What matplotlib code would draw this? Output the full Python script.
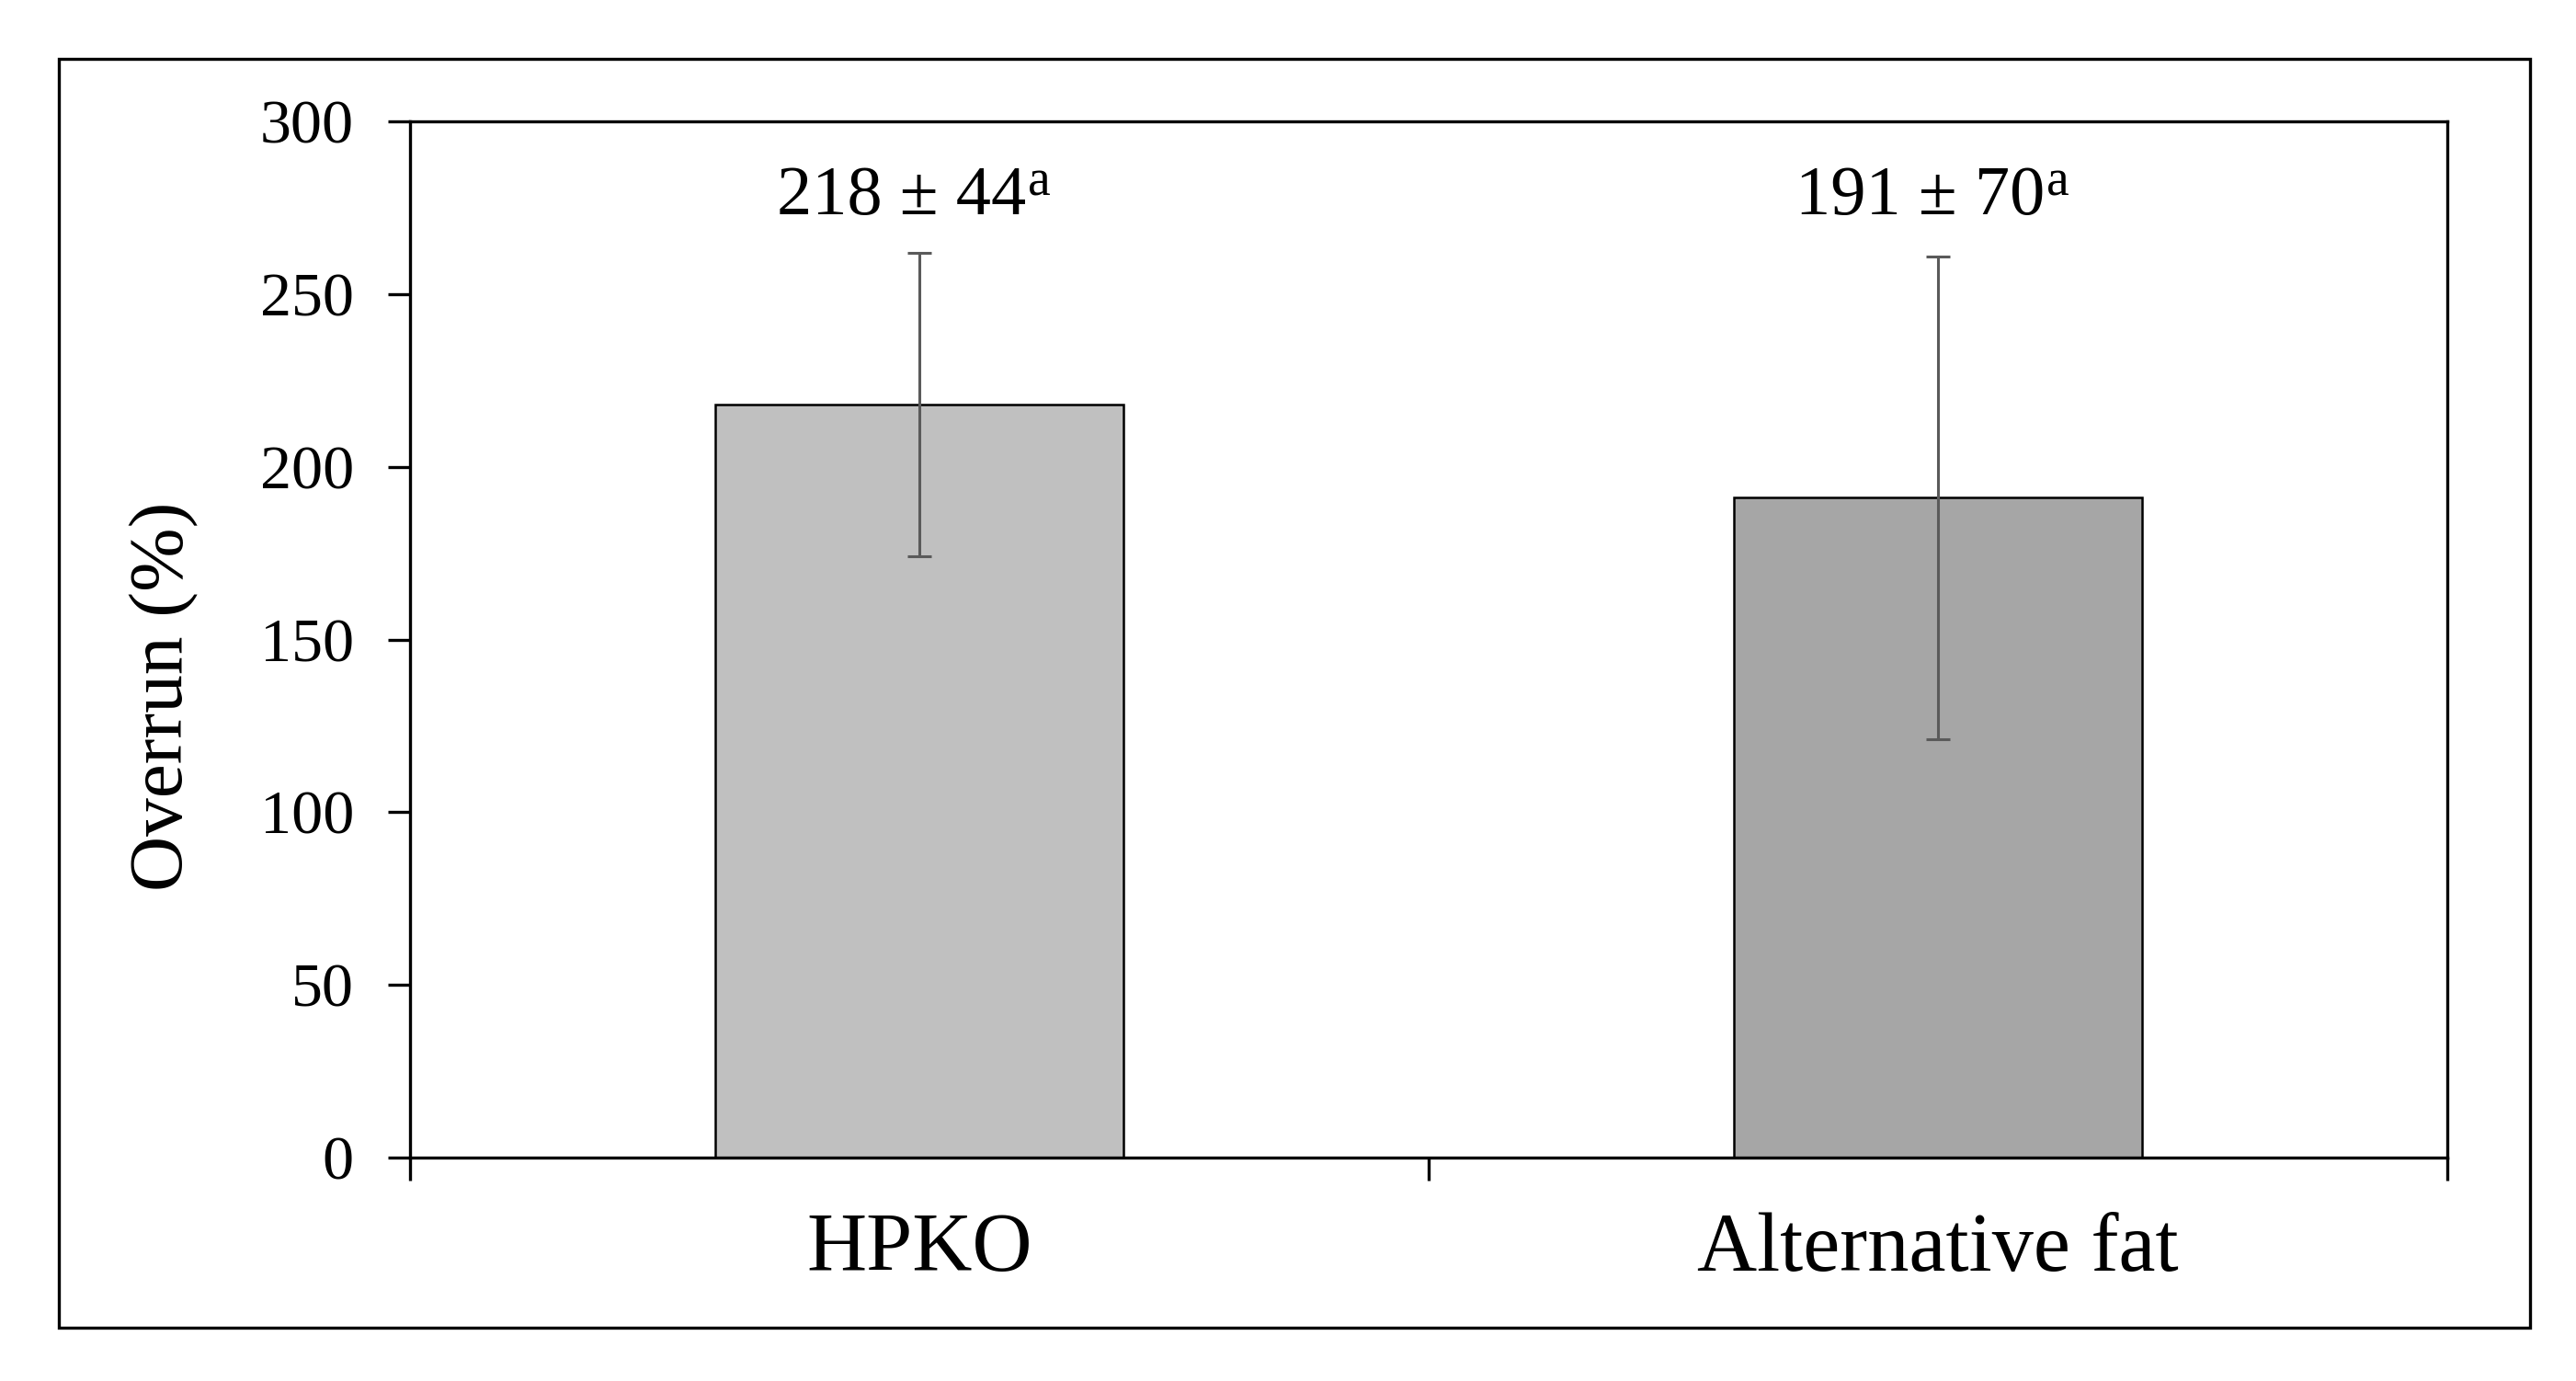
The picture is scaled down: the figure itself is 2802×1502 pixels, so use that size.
import matplotlib
matplotlib.use("Agg")
import matplotlib.pyplot as plt
from matplotlib.patches import Rectangle

plt.rcParams['font.family'] = ['Liberation Serif', 'DejaVu Serif']

categories = ['HPKO', 'Alternative fat']
overrun = [218, 191]
sd = [44, 70]
letters = ['a', 'a']
bar_colors = ['#c0c0c0', '#a6a6a6']
yticks = [0, 50, 100, 150, 200, 250, 300]

fig = plt.figure(figsize=(28.02, 15.02), dpi=100)
ax = fig.add_axes([0.1592, 0.1618, 0.9500 - 0.1592, 0.9121 - 0.1618])

# outer frame around the whole chart
fig.patches.append(Rectangle((0.0228, 0.0386), 0.9822 - 0.0228, 0.9574 - 0.0386,
                             transform=fig.transFigure, fill=False,
                             edgecolor='black', linewidth=2.4))

x = [0.5, 1.5]
ax.bar(x, overrun, width=0.4, color=bar_colors, edgecolor='black', linewidth=1.8, zorder=2)
ax.errorbar(x, overrun, yerr=sd, fmt='none', ecolor='#5a5a5a', elinewidth=2.2,
            capsize=9.4, capthick=2.2, zorder=3)

# mean ± sd label, with the letter as a small raised "a" right after it
label_y = 273
for xi, m, s, l in zip(x, overrun, sd, letters):
    main = ax.annotate(f'{m} ± {s}', xy=(xi, label_y), xytext=(-14, 0), textcoords='offset points',
                       ha='center', va='baseline', fontsize=55)
    ax.annotate(l, xy=(1, label_y), xycoords=(main, 'data'), xytext=(1, 15),
                textcoords='offset points', ha='left', va='baseline', fontsize=40)

ax.set_xlim(0, 2)
ax.set_ylim(0, 300)
ax.set_yticks(yticks)
ax.set_xticks([0, 1, 2])
ax.set_xticklabels([])
ax.tick_params(axis='y', direction='out', length=17, width=2.4, pad=27, labelsize=49)
ax.tick_params(axis='x', direction='out', length=18, width=2.4)

for xi, c in zip(x, categories):
    ax.text(xi, -0.109, c, transform=ax.get_xaxis_transform(), ha='center', va='baseline',
            fontsize=65)

for sp in ax.spines.values():
    sp.set_linewidth(2.4)

fig.text(0.0637, 0.496, 'Overrun (%)', rotation=90, ha='center', va='center', fontsize=60)

fig.savefig('out.png', dpi=100)
